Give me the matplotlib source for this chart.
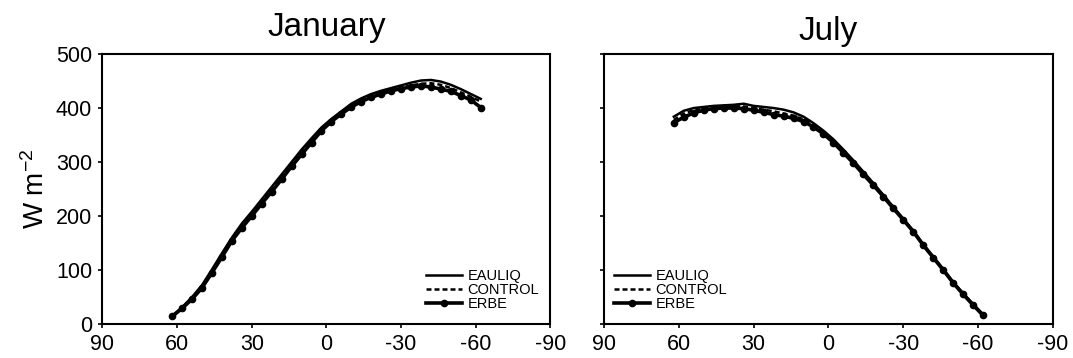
import matplotlib
matplotlib.use("Agg")
import matplotlib.pyplot as plt

plt.rcParams["font.family"] = ["Liberation Sans", "DejaVu Sans"]
plt.rcParams["mathtext.fontset"] = "custom"
plt.rcParams["mathtext.rm"] = "Liberation Sans"
plt.rcParams["mathtext.default"] = "regular"

# latitude of each zonal-mean point (deg N)
lats = [62, 58, 54, 50, 46, 42, 38, 34, 30, 26, 22, 18, 14, 10, 6, 2,
        -2, -6, -10, -14, -18, -22, -26, -30, -34, -38, -42, -46, -50, -54, -58, -62]

# absorbed solar radiation, W m-2
jan_eauliq = [15, 31, 50, 72, 101, 131, 160, 186, 208, 231, 254, 277, 300, 323, 344, 364,
              380, 394, 408, 418, 426, 432, 437, 442, 447, 451, 452, 449, 443, 435, 426, 417]
jan_control = [15, 30, 48, 70, 98, 129, 158, 183, 205, 228, 251, 274, 297, 320, 341, 361,
               378, 392, 405, 415, 422, 428, 434, 438, 442, 445, 446, 443, 437, 429, 421, 412]
jan_erbe = [14, 29, 46, 67, 95, 124, 154, 178, 200, 223, 245, 268, 292, 314, 336, 358,
            375, 389, 402, 412, 420, 426, 432, 436, 439, 441, 439, 435, 431, 423, 415, 401]

jul_eauliq = [384, 395, 400, 402, 404, 405, 406, 408, 404, 402, 400, 397, 392, 384, 372, 358,
              342, 323, 303, 282, 261, 239, 217, 195, 173, 148, 125, 102, 78, 57, 37, 18]
jul_control = [378, 390, 396, 400, 402, 403, 403, 403, 400, 397, 394, 390, 386, 379, 368, 354,
               338, 319, 300, 279, 259, 238, 216, 194, 172, 147, 124, 101, 77, 56, 36, 17]
jul_erbe = [373, 383, 391, 396, 399, 400, 400, 399, 396, 392, 388, 385, 381, 375, 365, 352,
            336, 317, 298, 277, 257, 236, 214, 193, 171, 146, 123, 100, 76, 55, 35, 16]

xticks = [90, 60, 30, 0, -30, -60, -90]
yticks = [0, 100, 200, 300, 400, 500]

fig = plt.figure(figsize=(10.73, 3.58), dpi=100)
ax1 = fig.add_axes([0.0955, 0.095, 0.4175, 0.754])
ax2 = fig.add_axes([0.5629, 0.095, 0.4184, 0.754])


def draw(ax, eauliq, control, erbe, title, tpad, legx):
    ax.plot(lats, eauliq, color="black", lw=1.8, label="EAULIQ")
    ax.plot(lats, control, color="black", lw=1.8, dashes=(2, 1.2), label="CONTROL")
    ax.plot(lats, erbe, color="black", lw=2.6, marker="o", ms=4.5, label="ERBE")
    ax.set_xlim(90, -90)
    ax.set_ylim(0, 500)
    ax.set_xticks(xticks)
    ax.set_xticklabels([str(t) for t in xticks])
    ax.set_yticks(yticks)
    ax.tick_params(direction="out", length=3, width=1.2, labelsize=15.5, pad=4.5)
    for s in ax.spines.values():
        s.set_linewidth(1.5)
    ax.set_title(title, fontsize=24, pad=tpad)
    ax.legend(loc="center left", bbox_to_anchor=(legx, 0.126), frameon=False,
              fontsize=10.5, handlelength=2.5, handletextpad=0.35,
              labelspacing=0.02, borderpad=0, borderaxespad=0, numpoints=1)


draw(ax1, jan_eauliq, jan_control, jan_erbe, "January", 13, 0.722)
draw(ax2, jul_eauliq, jul_control, jul_erbe, "July", 10, 0.022)
ax2.set_yticklabels([])
ax1.set_ylabel("W m$^{-2}$", fontsize=20)
ax1.yaxis.set_label_coords(-0.118, 0.5)

fig.savefig("out.png", dpi=100)
